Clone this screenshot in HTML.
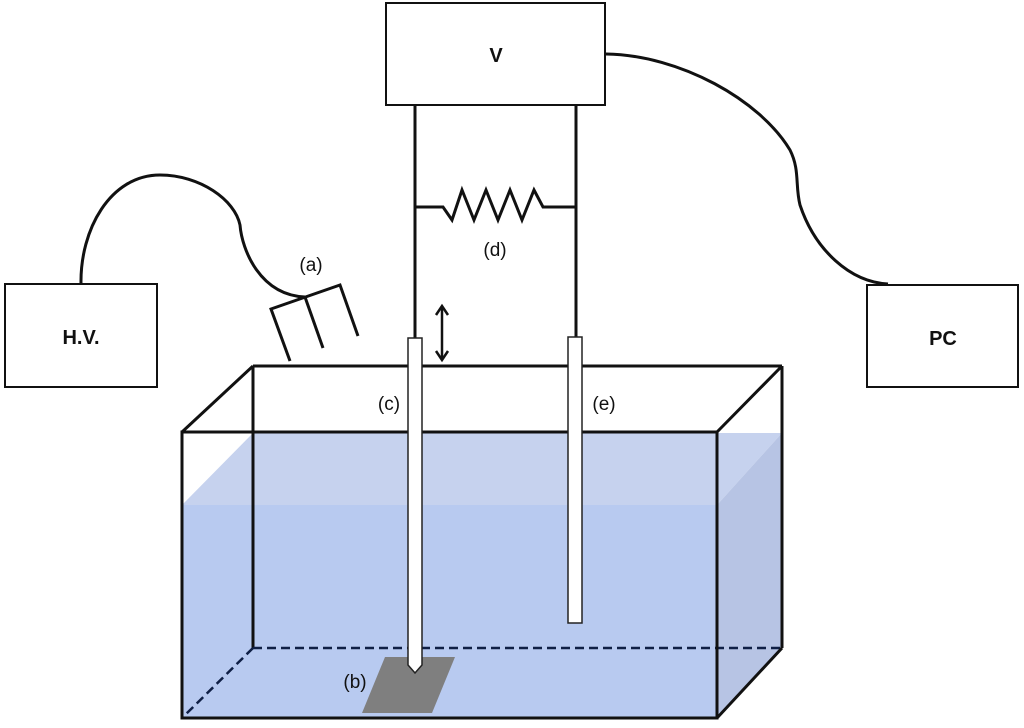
<!DOCTYPE html>
<html><head><style>html,body{margin:0;padding:0;background:#fff;}svg{display:block}</style></head>
<body>
<svg width="1024" height="728" viewBox="0 0 1024 728" xmlns="http://www.w3.org/2000/svg" font-family="Liberation Sans, sans-serif">
<!-- water -->
<polygon points="182,505 253,433 782,433 717,505" fill="#c6d2ee"/>
<polygon points="182,505 717,505 717,718 182,718" fill="#b8caf0"/>
<polygon points="717,505 782,433 782,648 717,718" fill="#b7c4e4"/>
<polygon points="182,433 717,433 717,505 182,505" fill="#c6d2ee" opacity="0"/>
<!-- back lines -->
<g stroke="#111" stroke-width="3" fill="none">
<line x1="253" y1="366" x2="782" y2="366"/>
<line x1="253" y1="366" x2="253" y2="648"/>
<line x1="782" y1="366" x2="782" y2="648"/>
<line x1="253" y1="366" x2="182" y2="432"/>
<line x1="782" y1="366" x2="717" y2="432"/>
</g>
<g stroke="#0f1f45" stroke-width="2.5" stroke-dasharray="9,5" fill="none">
<line x1="253" y1="648" x2="782" y2="648"/>
<line x1="253" y1="648" x2="182" y2="718"/>
</g>
<line x1="782" y1="648" x2="717" y2="718" stroke="#111" stroke-width="3"/>
<!-- plate -->
<polygon points="385,657 455,657 432,713 362,713" fill="#7f7f7f"/>
<!-- front face -->
<g stroke="#111" stroke-width="3" fill="none">
<rect x="182" y="432" width="535" height="286"/>
</g>
<!-- wires -->
<g stroke="#111" stroke-width="3" fill="none">
<line x1="415" y1="105" x2="415" y2="338"/>
<line x1="576" y1="105" x2="576" y2="338"/>
<polyline points="415,207 443,207 452,220 462,190 474,220 486,190 498,220 510,190 522,220 534,190 543,207 576,207" stroke-linejoin="miter"/>
<path d="M606,54 C680,55 760,100 790,150 C800,170 795,185 800,205 C815,250 850,282 888,284"/>
<path d="M81,284 C80,230 110,175 160,175 C200,175 235,200 240,225 C242,250 260,295 305,297"/>
<!-- comb electrode (a) -->
<polyline points="290,361 271,309 340,285 358,336"/>
<line x1="305" y1="297" x2="323" y2="348"/>
</g>
<!-- arrow -->
<g stroke="#111" stroke-width="2.5" fill="none">
<line x1="442" y1="306" x2="442" y2="360"/>
<polyline points="436,315 442,306 448,315"/>
<polyline points="436,351 442,360 448,351"/>
</g>
<!-- electrodes -->
<g stroke="#222" stroke-width="1.5" fill="#fff">
<path d="M408,338 L422,338 L422,665 L415,673 L408,665 Z"/>
<rect x="568" y="337" width="14" height="286"/>
</g>
<!-- boxes -->
<g stroke="#111" stroke-width="2" fill="#fff">
<rect x="386" y="3" width="219" height="102"/>
<rect x="5" y="284" width="152" height="103"/>
<rect x="867" y="285" width="151" height="102"/>
</g>
<g font-weight="bold" font-size="20" fill="#111" text-anchor="middle">
<text x="496" y="62">V</text>
<text x="81" y="344">H.V.</text>
<text x="943" y="345">PC</text>
</g>
<g font-size="19" fill="#111" text-anchor="middle">
<text x="311" y="271">(a)</text>
<text x="495" y="256">(d)</text>
<text x="389" y="410">(c)</text>
<text x="604" y="410">(e)</text>
<text x="355" y="688">(b)</text>
</g>
</svg>
</body></html>
